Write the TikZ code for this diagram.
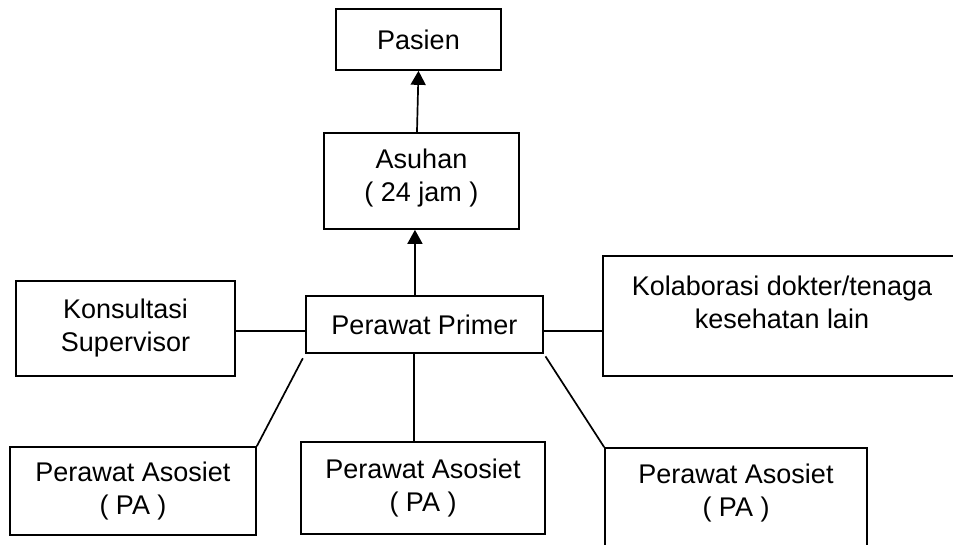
\documentclass[tikz,border=0pt]{standalone}
\usepackage{fontspec}
\setmainfont{Liberation Sans}
\usetikzlibrary{arrows.meta,calc}
\begin{document}
\begin{tikzpicture}[x=1pt,y=-1pt,
  txt/.style={inner sep=0pt, align=center, font=\fontsize{27}{33}\selectfont},
  box/.style={txt, draw, line width=1.7pt},
  link/.style={line width=1.7pt},
  arr/.style={link, -{Triangle[width=15pt,length=14pt]}}]
\clip (0,0) rectangle (953,544);

% top chain
\node[box, minimum width=165pt, minimum height=61pt] (pasien) at (418.5,39.5) {Pasien};
\node[box, minimum width=195pt, minimum height=96pt] (asuhan) at (421.5,181) {};
\node[txt] (asuhantxt) at (421.5,178) {Asuhan\\( 24 jam )};
\node[box, minimum width=237pt, minimum height=57pt] (primer) at (424.5,324.5) {Perawat Primer};

% side boxes
\node[box, minimum width=219pt, minimum height=95pt] (konsul) at (125.5,328.5) {Konsultasi\\Supervisor};
\node[box, minimum width=358pt, minimum height=120pt] (kolab) at (782,316) {};
\node[txt] (kolabtxt) at (782,302) {Kolaborasi dokter/tenaga\\kesehatan lain};

% associate nurses
\node[box, minimum width=246pt, minimum height=88pt] (pal) at (133,491) {Perawat Asosiet\\( PA )};
\node[box, minimum width=244pt, minimum height=92pt] (pam) at (423,488) {Perawat Asosiet\\( PA )};
\node[box, minimum width=262pt, minimum height=122pt] (par) at (736,509) {};
\node[txt] (partxt) at (736,493) {Perawat Asosiet\\( PA )};

% arrows upwards
\draw[arr] ($(asuhan.north west)!0.477!(asuhan.north east)$) -- (pasien.south);
\coordinate (pup) at ($(primer.north west)!0.46!(primer.north east)$);
\draw[arr] (pup) -- (pup |- asuhan.south);

% horizontal links
\coordinate (row) at (0,331);
\draw[link] (konsul.east |- row) -- (primer.west |- row);
\draw[link] (primer.east |- row) -- (kolab.west |- row);

% links to the associate nurses
\draw[link, shorten <=5pt] (primer.south west) -- (pal.north east);
\coordinate (pdown) at ($(primer.south west)!0.456!(primer.south east)$);
\draw[link] (pdown) -- (pdown |- pam.north);
\draw[link, shorten <=3pt] (primer.south east) -- (par.north west);
\end{tikzpicture}
\end{document}
